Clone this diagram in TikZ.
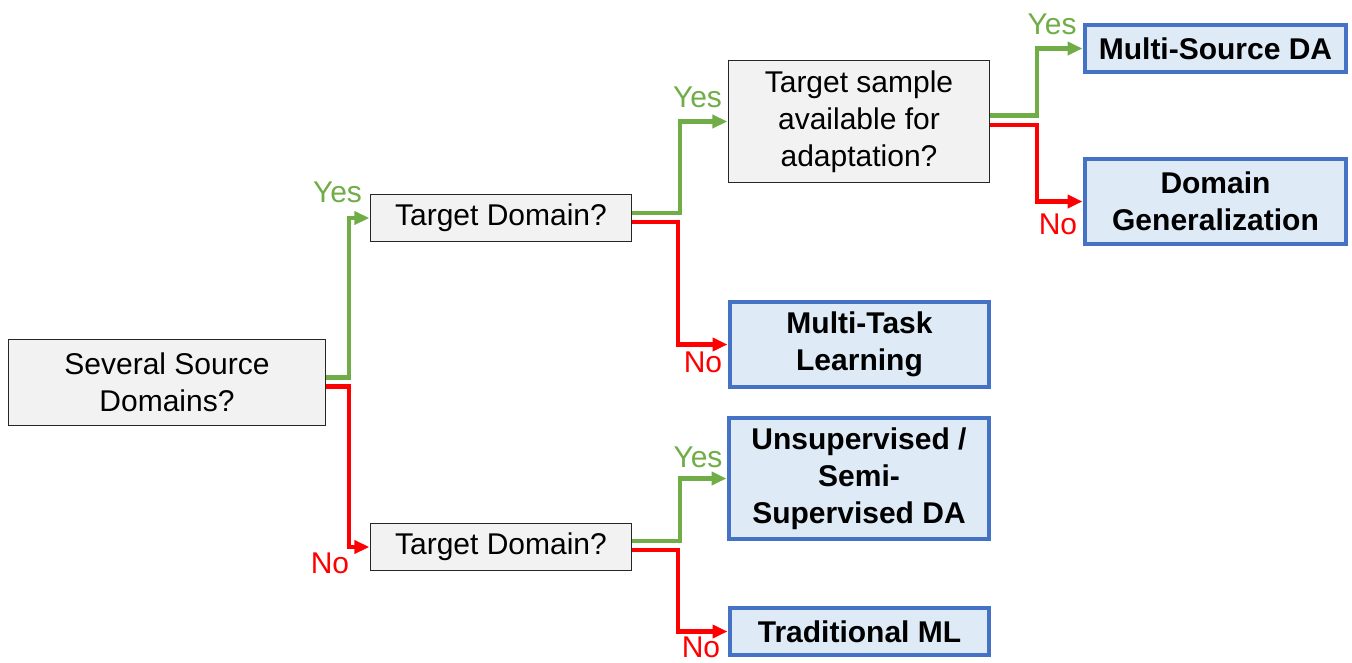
\documentclass[tikz,border=0pt]{standalone}
\usepackage{fontspec}
\setmainfont{Liberation Sans}
\usetikzlibrary{arrows.meta}
\definecolor{yesgreen}{HTML}{70AD47}
\definecolor{nored}{HTML}{FF0000}
\definecolor{qfill}{HTML}{F2F2F2}
\definecolor{outline}{HTML}{4472C4}
\definecolor{outfill}{HTML}{DEEBF7}
\begin{document}
\begin{tikzpicture}[x=1pt,y=-1pt,
  question/.style={draw=black!85, line width=1.3pt, fill=qfill, align=center,
    inner sep=0pt, font=\fontsize{30}{37}\selectfont},
  outcome/.style={draw=outline, line width=4pt, fill=outfill, align=center,
    inner sep=0pt, font=\fontsize{30}{37}\selectfont\bfseries},
  branch/.style={line width=4.5pt, -{Triangle[length=15pt,width=13pt]}, shorten >=0.5pt},
  yesbranch/.style={branch, draw=yesgreen},
  nobranch/.style={branch, draw=nored},
  yeslabel/.style={text=yesgreen, anchor=base, inner sep=0pt, font=\fontsize{30}{36}\selectfont},
  nolabel/.style={text=nored, anchor=base, inner sep=0pt, font=\fontsize{30}{36}\selectfont}
]
\useasboundingbox (0,0) rectangle (1352,662);

% questions
\node[question, minimum width=317pt, minimum height=86pt] (src) at (167,382.5) {Several Source\\Domains?};
\node[question, minimum width=261pt, minimum height=47pt] (tdA) at (501,218) {Target Domain?};
\node[question, minimum width=261pt, minimum height=47pt] (tdB) at (501,547) {Target Domain?};
\node[question, minimum width=261pt, minimum height=122pt] (tsa) at (859,121.5) {Target sample\\available for\\adaptation?};

% outcomes
\node[outcome, minimum width=261pt, minimum height=47pt] (msda) at (1215.5,48.5) {Multi-Source DA};
\node[outcome, minimum width=261pt, minimum height=85pt] (dg) at (1215.5,201.5) {Domain\\Generalization};
\node[outcome, minimum width=259pt, minimum height=85pt] (mtl) at (859.5,344.5) {Multi-Task\\Learning};
\node[outcome, minimum width=260pt, minimum height=121pt] (ssda) at (859,478.5) {Unsupervised /\\Semi-\\Supervised DA};
\node[outcome, minimum width=259pt, minimum height=47pt] (tml) at (859.5,631.5) {Traditional ML};

% branches
\draw[yesbranch] ([yshift=5pt]src.east) -| ([xshift=-21pt]tdA.west) -- (tdA.west);
\draw[nobranch]  ([yshift=-4pt]src.east) -| ([xshift=-21pt]tdB.west) -- (tdB.west);
\draw[yesbranch] ([yshift=5pt]tdA.east) -| ([xshift=-48pt]tsa.west) -- (tsa.west);
\draw[nobranch]  ([yshift=-4pt]tdA.east) -| ([xshift=-50pt]mtl.west) -- (mtl.west);
\draw[yesbranch] ([yshift=6pt]tsa.east) -| ([xshift=-46pt]msda.west) -- (msda.west);
\draw[nobranch]  ([yshift=-3.5pt]tsa.east) -| ([xshift=-46pt]dg.west) -- (dg.west);
\draw[yesbranch] ([yshift=6pt]tdB.east) -| ([xshift=-47pt]ssda.west) -- (ssda.west);
\draw[nobranch]  ([yshift=-3pt]tdB.east) -| ([xshift=-50pt]tml.west) -- (tml.west);

% branch labels
\node[yeslabel] (yA) at (337.5,202) {Yes};
\node[nolabel]  (nA) at (330,573) {No};
\node[yeslabel] (yB) at (697.5,107) {Yes};
\node[nolabel]  (nB) at (703,372) {No};
\node[yeslabel] (yC) at (1052,34) {Yes};
\node[nolabel]  (nC) at (1058,234) {No};
\node[yeslabel] (yD) at (698,467) {Yes};
\node[nolabel]  (nD) at (701,657) {No};
\end{tikzpicture}
\end{document}
